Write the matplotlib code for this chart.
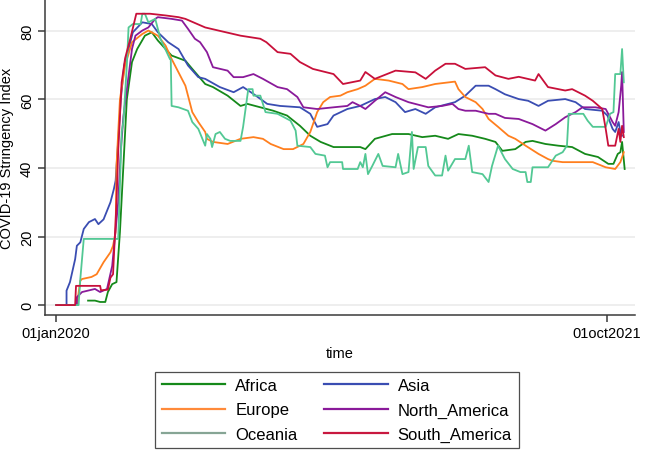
import numpy as np
import matplotlib
matplotlib.use("Agg")
import matplotlib.pyplot as plt
from matplotlib.lines import Line2D

plt.rcParams["font.family"] = ["Liberation Sans", "DejaVu Sans"]

# days since 01jan2020, stringency index
africa_d = [37, 45, 51, 57, 60, 65, 70, 74, 78, 82, 88, 94, 103, 111, 118, 127, 134, 150, 158, 173,
            182, 199, 214, 222, 237, 252, 268, 283, 295, 307, 322, 338, 353, 359, 370, 390, 409, 425,
            440, 455, 467, 483, 498, 510, 518, 533, 545, 553, 568, 583, 599, 614, 629, 641, 647, 652,
            655, 657, 660]
africa_v = [1.3, 1.3, 0.9, 0.9, 3.8, 6.1, 6.7, 21.3, 40.6, 60, 70.9, 74.7, 78.6, 79.6, 77.2, 74.7,
            72.8, 71.3, 68.9, 64.5, 63.6, 61.1, 58.1, 58.7, 57.7, 56.7, 55.3, 52.3, 49.4, 47.6, 46.1,
            46.1, 46.1, 45.5, 48.5, 49.9, 49.9, 49, 49.4, 48.5, 49.9, 49.4, 48.5, 47.6, 45, 45.5, 47.6,
            47.9, 47, 46.5, 46.1, 44.1, 43.2, 41.2, 41.2, 44.1, 44.6, 47.6, 39.7]

asia_d = [0, 12, 12, 16, 22, 24, 28, 32, 38, 45, 49, 55, 59, 63, 67, 69, 72, 75, 79, 84, 89, 100,
          111, 118, 130, 142, 153, 165, 173, 190, 206, 217, 229, 245, 260, 283, 295, 303, 315, 322,
          338, 353, 370, 382, 394, 405, 417, 429, 440, 463, 475, 487, 502, 510, 521, 537, 548, 560,
          571, 591, 603, 614, 634, 640, 646, 649, 653, 655, 657]
asia_v = [0, 0, 4.2, 6.7, 13.4, 17.3, 18.3, 22.2, 24.2, 25.1, 23.6, 25, 27.5, 30, 33.9, 36.3, 48,
          60, 70, 74.7, 79.6, 82.5, 82, 79.6, 76.7, 74.7, 69.9, 66.5, 66, 63.6, 62.1, 63.6, 61.6,
          58.7, 58.1, 57.7, 55.8, 52, 52.8, 55.3, 57.2, 58.1, 60.1, 60.7, 59.2, 56.3, 57.2, 55.8,
          57.7, 59.2, 61.1, 64, 64, 63, 61.5, 60.1, 59.6, 58.1, 59.6, 60.1, 59.2, 57.2, 56.7, 55.3,
          51.4, 50.5, 53.4, 50.5, 49.4]

europe_d = [0, 24, 28, 30, 41, 47, 55, 63, 66, 69, 70, 74, 80, 88, 100, 107, 118, 127, 134, 142,
            150, 158, 165, 173, 175, 182, 199, 214, 229, 240, 249, 264, 275, 287, 295, 303, 310, 318,
            330, 338, 350, 359, 370, 386, 402, 409, 425, 440, 463, 467, 475, 487, 495, 502, 513, 525,
            533, 545, 560, 571, 576, 588, 606, 623, 638, 649, 655, 659]
europe_v = [0, 0, 7.1, 7.6, 8.2, 9, 12.5, 15.4, 17.3, 21.3, 40.6, 60, 69.9, 76.7, 79.1, 80.1, 78.6,
            75.7, 71.8, 67.9, 64, 56.3, 53.4, 50.5, 48.5, 47.6, 47, 48.5, 49, 48.5, 47, 45.5, 45.5,
            47, 50.5, 56.3, 59.2, 60.7, 61.1, 62.1, 63, 64, 66, 65.5, 64.5, 63, 63.6, 64.5, 65.2, 63,
            60.7, 59.2, 57.2, 54.3, 52, 49.4, 48.5, 46.5, 44.1, 42.6, 42.1, 41.7, 41.7, 41.7, 40.2,
            39.7, 41.7, 44.6]

namerica_d = [0, 24, 24, 30, 45, 51, 59, 65, 72, 75, 78, 88, 92, 100, 107, 115, 118, 134, 146, 153,
              161, 167, 175, 182, 199, 206, 217, 229, 240, 257, 268, 280, 287, 303, 322, 338, 344,
              353, 359, 370, 382, 394, 409, 432, 448, 460, 467, 475, 487, 502, 510, 521, 537, 553,
              568, 580, 591, 603, 611, 626, 638, 646, 649, 653, 656, 657, 659]
namerica_v = [0, 0, 2.3, 3.8, 4.7, 3.8, 4.7, 11.4, 30, 45, 55, 74.7, 78.6, 80.1, 81, 83.5, 84, 83.5,
              83, 80.6, 77.7, 76.7, 73.8, 69.4, 68.4, 66.5, 66.5, 67.4, 66, 63.6, 63, 60.7, 57.7,
              57.2, 57.7, 58.1, 59.2, 58.1, 57.2, 59.6, 62.1, 60.7, 59.2, 57.7, 58.1, 58.7, 57.2,
              56.7, 56.7, 55.8, 55.8, 54.6, 54.3, 52.8, 50.9, 52.8, 54.8, 56.3, 57.7, 57.7, 57.2,
              53.4, 52.3, 56.3, 64, 68, 50.5]

oceania_d = [0, 26, 28, 32, 72, 76, 78, 82, 84, 89, 98, 100, 103, 107, 115, 121, 132, 133, 134, 142,
             153, 158, 165, 173, 175, 179, 181, 185, 190, 196, 202, 214, 217, 223, 228, 229, 237,
             243, 257, 272, 278, 280, 295, 301, 312, 315, 318, 332, 333, 350, 353, 356, 359, 362,
             367, 374, 379, 394, 397, 402, 409, 413, 415, 420, 429, 432, 440, 448, 452, 455, 463,
             475, 479, 483, 495, 502, 506, 513, 521, 530, 539, 545, 547, 551, 553, 571, 580, 588,
             593, 595, 612, 617, 623, 638, 643, 647, 649, 655, 657, 659]
oceania_v = [0, 0, 7.6, 19.3, 19.3, 50.5, 53.4, 69.9, 81, 82, 82, 85, 85, 82.5, 83.5, 77.7, 71.8,
             71.8, 58.1, 57.7, 56.7, 53.4, 51.4, 46.5, 49.9, 48.5, 46.1, 49.9, 50.5, 48.5, 47.9,
             47.9, 52, 63, 63, 61.1, 61.1, 56.3, 55.8, 53.8, 50.9, 46.5, 46.1, 44.1, 43.6, 40.2,
             41.7, 41.7, 39.7, 39.7, 41.7, 40.2, 44.1, 38.2, 40.6, 44.1, 40.6, 40.2, 44.1, 38.2,
             38.8, 50.5, 39.7, 46.1, 46.1, 40.6, 37.8, 37.8, 43.6, 39.2, 42.6, 42.6, 46.5, 38.8,
             38.2, 35.9, 40.6, 46.5, 42.6, 39.7, 38.8, 38.8, 35.9, 35.9, 40.2, 40.2, 43.6, 44.6,
             46.5, 55.8, 55.8, 53.8, 52, 52, 55.8, 56.3, 67.4, 67.4, 74.7, 65]

samerica_d = [0, 22, 23, 51, 52, 60, 63, 66, 70, 72, 76, 80, 86, 93, 109, 127, 142, 150, 173, 190,
              214, 237, 244, 257, 272, 283, 298, 322, 333, 353, 359, 370, 394, 417, 429, 440, 452,
              463, 475, 498, 510, 525, 537, 556, 560, 571, 591, 599, 614, 623, 634, 638, 641, 649,
              653, 655, 657, 659]
samerica_v = [0, 0, 5.6, 5.6, 4.3, 4.5, 8, 9, 30, 45, 65, 72, 77.7, 85, 85, 84.5, 84, 83.5, 81, 80,
              78.6, 77.7, 76.7, 73.8, 73.3, 70.9, 68.9, 67.4, 64.5, 65.5, 68, 66, 68.4, 67.9, 66,
              68.4, 70.4, 70.4, 68.9, 69.4, 67, 66, 66.6, 65.5, 67.4, 63.6, 62.6, 63, 61.1, 59.6,
              57.2, 51.4, 46.5, 46.5, 51.4, 47.6, 52.3, 49]

regions = ["Africa", "Asia", "Europe", "North_America", "Oceania", "South_America"]
series = [(africa_d, africa_v), (asia_d, asia_v), (europe_d, europe_v),
          (namerica_d, namerica_v), (oceania_d, oceania_v), (samerica_d, samerica_v)]
line_colors = ["#15891a", "#3a4db2", "#ff7f1e", "#8a1a9a", "#52c894", "#c8103a"]
key_colors = ["#15891a", "#3a4db2", "#ff8a3a", "#8a1a9a", "#86a595", "#c8183f"]

start = np.datetime64("2020-01-01")

fig = plt.figure(figsize=(6.46, 4.52), dpi=100)
ax = fig.add_axes([45 / 646, 1 - 316 / 452, 590 / 646, 316 / 452])

for (d, v), c in zip(series, line_colors):
    dates = start + np.array(d).astype("timedelta64[D]")
    ax.plot(dates, v, color=c, lw=1.3)

ax.set_xlim(start - np.timedelta64(13, "D"), start + np.timedelta64(672, "D"))
ax.set_ylim(-2.9, 89.3)
ax.set_yticks([0, 20, 40, 60, 80])
ax.set_yticklabels(["0", "20", "40", "60", "80"], rotation=90, va="center", fontsize=10.5)
ax.set_xticks([start, np.datetime64("2021-10-01")])
ax.set_xticklabels(["01jan2020", "01oct2021"], fontsize=10.5)
ax.grid(axis="y", color="#ebebeb", lw=1.2)
ax.set_axisbelow(True)
for s in ["top", "right"]:
    ax.spines[s].set_visible(False)
for s in ["left", "bottom"]:
    ax.spines[s].set_color("#3a3a3a")
    ax.spines[s].set_linewidth(1.1)
ax.tick_params(color="#3a3a3a", length=5, width=1.1, pad=3)
ax.set_xlabel("time", fontsize=10.5, labelpad=4)
ax.set_ylabel("COVID-19 Stringency Index", fontsize=10.5, labelpad=4)

order = [0, 2, 4, 1, 3, 5]
handles = [Line2D([], [], color=key_colors[i], lw=1.6) for i in order]
labels = [regions[i] for i in order]
leg = fig.legend(handles, labels, loc="center", bbox_to_anchor=(0.5217, 0.0907), ncol=2,
                 fontsize=12, frameon=True, fancybox=False, edgecolor="#222222",
                 handlelength=3.8, handletextpad=0.6, columnspacing=1.6, labelspacing=0.55,
                 borderpad=0.4, borderaxespad=0)
leg.get_frame().set_linewidth(0.9)

fig.savefig("out.png", dpi=100)
